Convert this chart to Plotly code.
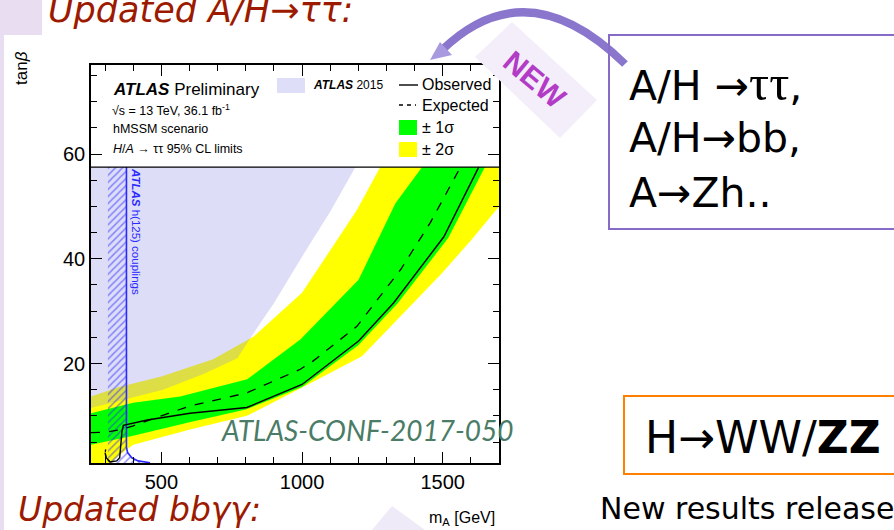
import plotly.graph_objects as go

# ---------------- data ----------------
X_RANGE = [250, 1700]          # m_A [GeV]
Y_RANGE = [1, 77]              # tan beta
BOX_Y = 57.5                   # lower border of the legend box (tan beta)
X_TICKS = [500, 1000, 1500]
Y_TICKS = [20, 40, 60]

obs_m = [300, 304, 318, 341, 352, 355, 360, 365, 400, 450, 602, 804, 1000, 1201, 1326, 1504, 1628]
obs_t = [3.0, 2.0, 1.2, 1.4, 2.0, 4.0, 7.0, 8.2, 8.6, 9.2, 10.5, 11.6, 16.0, 24.3, 31.6, 44.2, 57.5]

exp_m = [250, 300, 350, 400, 500, 602, 804, 994, 1040, 1195, 1350, 1456, 1563]
exp_t = [6.8, 6.9, 7.3, 8.1, 10.0, 11.9, 14.4, 18.9, 20.5, 27.1, 37.9, 46.9, 57.5]
exp_low_m = [318, 305, 300, 302]
exp_low_t = [1.2, 1.8, 2.8, 3.6]

g1_up_m = [250, 400, 567, 805, 900, 994, 1201, 1332, 1427]
g1_up_t = [10.5, 12.5, 13.7, 17.0, 20.8, 24.6, 36.0, 50.6, 57.5]
g1_lo_m = [250, 300, 400, 600, 800, 1000, 1200, 1340, 1520, 1650]
g1_lo_t = [4.5, 5.0, 6.2, 8.8, 11.2, 15.5, 23.5, 31.5, 44.0, 57.5]

y2_up_m = [250, 350, 500, 684, 827, 1000, 1195, 1278]
y2_up_t = [13.7, 15.5, 17.5, 20.8, 25.1, 33.5, 49.3, 57.5]
y2_lo_m = [250, 320, 350, 400, 500, 602, 804, 1040, 1213, 1350, 1498, 1600, 1700]
y2_lo_t = [1.0, 1.0, 2.5, 4.5, 6.0, 7.4, 10.0, 16.5, 21.4, 29.0, 37.3, 43.5, 50.0]

atlas2015_m = [250, 400, 506, 650, 770, 828, 900, 1000, 1100, 1190]
atlas2015_t = [11.5, 13.5, 15.0, 18.0, 21.0, 25.8, 31.5, 40.4, 49.0, 57.5]

h125_m = [376, 376, 380, 395, 417, 436, 460]
h125_t = [57.5, 4.0, 3.0, 2.0, 1.4, 1.2, 1.05]
h125_left_m = 310

# ---------------- colours ----------------
YELLOW = "#ffff00"
GREEN = "#00ff00"
LAV_FILL = "rgba(142,142,232,0.3)"
LAV = "#dedef9"
HBLUE = "#2a2aff"
DARKRED = "#9c1a00"

# plot area in pixels
L, R, T, B = 91, 499, 65, 463
FW, FH = 894, 530


def px(x, y):
    return (x - L) / (R - L), (B - y) / (B - T)


fig = go.Figure()

# 2 sigma band
fig.add_trace(go.Scatter(
    x=y2_up_m + [X_RANGE[1]] + y2_lo_m[::-1],
    y=y2_up_t + [BOX_Y] + y2_lo_t[::-1],
    fill="toself", fillcolor=YELLOW, line=dict(width=0), mode="lines",
    hoverinfo="skip", showlegend=False))
# 1 sigma band
fig.add_trace(go.Scatter(
    x=g1_up_m + g1_lo_m[::-1],
    y=g1_up_t + g1_lo_t[::-1],
    fill="toself", fillcolor=GREEN, line=dict(width=0), mode="lines",
    hoverinfo="skip", showlegend=False))
# ATLAS 2015 excluded region
fig.add_trace(go.Scatter(
    x=atlas2015_m + [X_RANGE[0]],
    y=atlas2015_t + [BOX_Y],
    fill="toself", fillcolor=LAV_FILL, line=dict(width=0), mode="lines",
    hoverinfo="skip", showlegend=False))
# h(125) couplings hatched region
fig.add_trace(go.Scatter(
    x=[h125_left_m] + h125_m + [h125_m[-1], h125_left_m],
    y=[BOX_Y] + h125_t + [Y_RANGE[0], Y_RANGE[0]],
    fill="toself", fillcolor="rgba(0,0,0,0)",
    fillpattern=dict(shape="/", fgcolor=HBLUE, bgcolor="rgba(0,0,0,0)", size=5, solidity=0.3),
    line=dict(width=0), mode="lines", hoverinfo="skip", showlegend=False))
fig.add_trace(go.Scatter(x=h125_m, y=h125_t, mode="lines",
                         line=dict(color=HBLUE, width=1.6), showlegend=False))
# expected / observed
fig.add_trace(go.Scatter(x=exp_m, y=exp_t, mode="lines",
                         line=dict(color="black", width=1.3, dash="dash"), showlegend=False))
fig.add_trace(go.Scatter(x=exp_low_m, y=exp_low_t, mode="lines",
                         line=dict(color="black", width=1.3, dash="3px,3px"), showlegend=False))
fig.add_trace(go.Scatter(x=obs_m, y=obs_t, mode="lines",
                         line=dict(color="black", width=1.4), showlegend=False))

shapes = []
ann = []

# legend box border
shapes.append(dict(type="line", xref="x", yref="y", x0=X_RANGE[0], x1=X_RANGE[1], y0=BOX_Y, y1=BOX_Y,
                   line=dict(color="black", width=1.4), layer="above"))


def rect_px(x0, y0, x1, y1, fill=None, line=None, layer="above"):
    a, b = px(x0, y0)
    c, d = px(x1, y1)
    s = dict(type="rect", xref="paper", yref="paper", x0=a, y0=b, x1=c, y1=d, layer=layer,
             fillcolor=fill if fill else "rgba(0,0,0,0)",
             line=line if line else dict(width=0))
    shapes.append(s)


def line_px(x0, y0, x1, y1, **kw):
    a, b = px(x0, y0)
    c, d = px(x1, y1)
    shapes.append(dict(type="line", xref="paper", yref="paper", x0=a, y0=b, x1=c, y1=d,
                       layer="above", line=kw))


def path_px(pts, cmd_close=True, fill=None, line=None):
    s = ""
    for i, (x, y) in enumerate(pts):
        a, b = px(x, y)
        s += ("M" if i == 0 else "L") + f" {a:.5f},{b:.5f} "
    if cmd_close:
        s += "Z"
    shapes.append(dict(type="path", xref="paper", yref="paper", path=s, layer="above",
                       fillcolor=fill if fill else "rgba(0,0,0,0)",
                       line=line if line else dict(width=0)))


def text_px(x, y, text, size, color="black", family="Liberation Sans, Arial", xanchor="left",
            yanchor="middle", angle=0):
    a, b = px(x, y)
    ann.append(dict(x=a, y=b, xref="paper", yref="paper", text=text, showarrow=False,
                    xanchor=xanchor, yanchor=yanchor, textangle=angle,
                    font=dict(size=size, color=color, family=family)))


HEL = "Liberation Sans, Arial, sans-serif"
# legend contents
text_px(111, 89, "<b><i>ATLAS</i></b> Preliminary", 17)
text_px(110, 110, "√s = 13 TeV, 36.1 fb<sup>-1</sup>", 12.5)
text_px(111, 129, "hMSSM scenario", 12.5)
text_px(111, 149, "<i>H</i>/<i>A</i> → ττ 95% CL limits", 12.5)
rect_px(277, 78, 305, 93, fill=LAV)
text_px(311, 85, "<b><i>ATLAS</i></b> 2015", 12)
line_px(399, 85, 418, 85, color="black", width=1.4)
text_px(420, 84, "Observed", 16)
line_px(399, 105, 416, 105, color="black", width=1.3, dash="4px,4px")
text_px(420, 105, "Expected", 16)
rect_px(399, 120, 417, 135, fill=GREEN)
text_px(420, 128, "± 1σ", 16)
rect_px(399, 142, 417, 157, fill=YELLOW)
text_px(420, 149, "± 2σ", 16)
text_px(136, 231, "<b><i>ATLAS</i></b> h(125) couplings", 11.5, color=HBLUE, xanchor="center", angle=90)

# axis titles
text_px(22, 68, "tan<i>β</i>", 17, xanchor="center", angle=-90)
text_px(497, 518, "m<sub>A</sub> [GeV]", 16, xanchor="right")

# conf note label
text_px(219, 430, "<i>ATLAS-CONF-2017-050</i>", 28, color="#4a7c66", family="Lato, sans-serif")

# ---------------- slide decorations ----------------
SL = "DejaVu Sans, Verdana, sans-serif"
TAU = "<span style='font-family:Liberation Serif, serif;font-size:50px'>ττ</span>"
rect_px(0, 0, 42, 35, fill="#e9ddf1")
rect_px(0, 35, 4, 530, fill="#e9ddf1")
text_px(46, 10, "<i>Updated A/H→ττ:</i>", 35, color=DARKRED, family=SL)
text_px(16, 509, "<i>Updated bbγγ:</i>", 33, color=DARKRED, family=SL)

# NEW ribbon
path_px([(512, 22), (597, 100), (560, 138), (475, 57)], fill="#f3eefa")
text_px(535, 79, "<b>NEW</b>", 30, color="#b23cc6", family=HEL, xanchor="center", angle=40)
# curved arrow
p0 = px(625, 64)
c0 = px(527, -32)
p2 = px(442, 50)
shapes.append(dict(type="path", xref="paper", yref="paper", layer="above",
                   path=f"M {p0[0]:.5f},{p0[1]:.5f} Q {c0[0]:.5f},{c0[1]:.5f} {p2[0]:.5f},{p2[1]:.5f}",
                   line=dict(color="#8a76cc", width=8)))
path_px([(430, 60), (440, 42), (452, 55)], fill="#a99ae0")

# right boxes
rect_px(609, 35, 900, 229, line=dict(color="#866cc6", width=2))
text_px(627, 83, "A/H →" + TAU + ",", 41, family=SL)
text_px(627, 138, "A/H→bb,", 41, family=SL)
text_px(627, 193, "A→Zh..", 41, family=SL)
rect_px(624, 396, 900, 474, line=dict(color="#ff8000", width=2))
text_px(643, 437, "H→WW/<b>ZZ</b>", 44, family=SL)
text_px(598, 508, "New results released", 30, family=SL)
path_px([(372, 530), (392, 506), (425, 530)], fill="#efeaf7")

axis_common = dict(showline=True, linecolor="black", linewidth=1.5, mirror="ticks",
                   ticks="inside", tickcolor="black", tickwidth=1.3, ticklen=11,
                   showgrid=False, zeroline=False,
                   tickfont=dict(size=20, color="black", family=HEL))

fig.update_layout(
    width=FW, height=FH,
    margin=dict(l=L, r=FW - R, t=T, b=FH - B, pad=0),
    paper_bgcolor="white", plot_bgcolor="white",
    xaxis=dict(range=X_RANGE, tickvals=X_TICKS, ticktext=[str(v) for v in X_TICKS],
               minor=dict(ticks="inside", ticklen=6, dtick=100, tick0=0, tickcolor="black", tickwidth=1.2),
               **axis_common),
    yaxis=dict(range=Y_RANGE, tickvals=Y_TICKS, ticktext=[str(v) for v in Y_TICKS],
               minor=dict(ticks="inside", ticklen=6, dtick=5, tick0=0, tickcolor="black", tickwidth=1.2),
               **axis_common),
    shapes=shapes, annotations=ann, showlegend=False,
)

fig.write_html("out.html", config={"displayModeBar": False},
               post_script="document.body.style.margin='0';document.body.style.overflow='hidden';")
